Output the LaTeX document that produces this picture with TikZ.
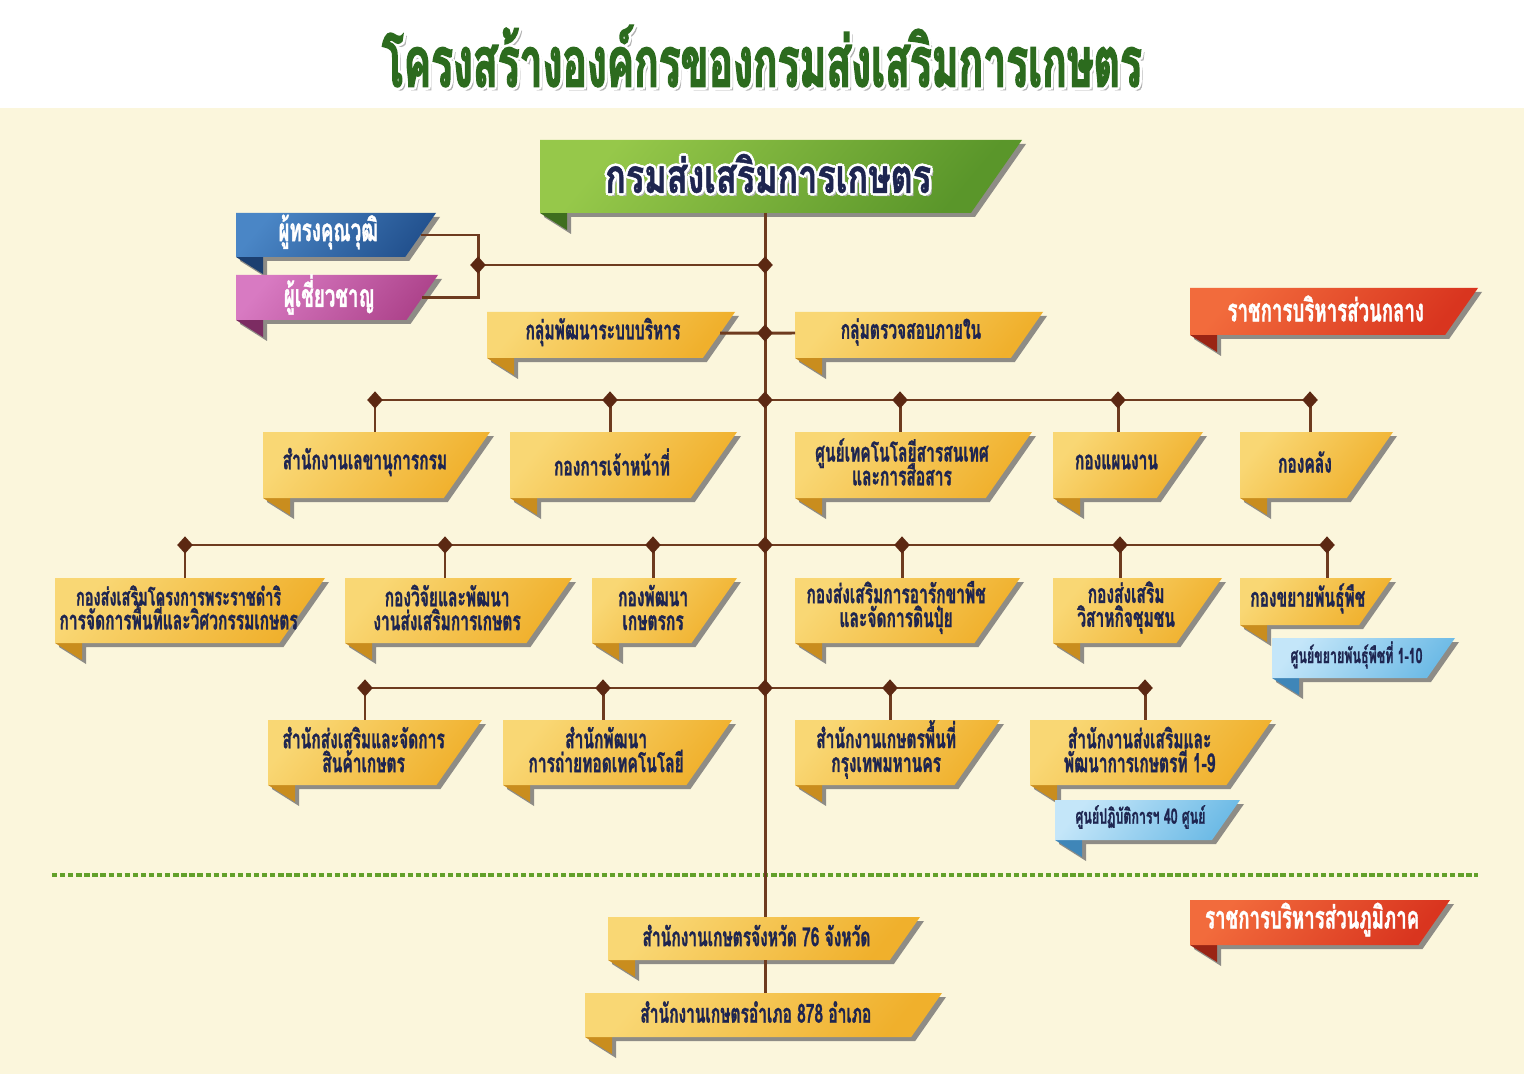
\documentclass[tikz,border=0pt]{standalone}
\usepackage{fontspec}
\usepackage{tikz}
\usetikzlibrary{calc,shapes.geometric}

\newfontfamily\thai[Script=Thai,FakeStretch=0.59,BoldFeatures={FakeBold=1}]{Loma}
\newfontfamily\thaiwide[Script=Thai,FakeStretch=0.72,BoldFeatures={FakeBold=1}]{Loma}
\newfontfamily\thaititle[Script=Thai,FakeStretch=0.58,BoldFeatures={FakeBold=2}]{Loma}

\definecolor{cream}{HTML}{FBF6DC}
\definecolor{linkbrown}{HTML}{6E3B1F}
\definecolor{knotbrown}{HTML}{5C2812}
\definecolor{ylight}{HTML}{F9D774}
\definecolor{ydark}{HTML}{F0B02C}
\definecolor{yfold}{HTML}{C98D1E}
\definecolor{glight}{HTML}{96C84A}
\definecolor{gdark}{HTML}{5A962A}
\definecolor{gfold}{HTML}{3E6E1E}
\definecolor{blight}{HTML}{4A86C6}
\definecolor{bdark}{HTML}{23528F}
\definecolor{bfold}{HTML}{1C3F70}
\definecolor{plight}{HTML}{D87AC2}
\definecolor{pdark}{HTML}{AE448C}
\definecolor{pfold}{HTML}{7C2C62}
\definecolor{rlight}{HTML}{F26B3C}
\definecolor{rdark}{HTML}{D9351F}
\definecolor{rfold}{HTML}{9A2414}
\definecolor{slight}{HTML}{C4E6F9}
\definecolor{sdark}{HTML}{6EBBE6}
\definecolor{sfold}{HTML}{3F86B8}
\definecolor{inkblue}{HTML}{1E2550}
\definecolor{titlegreen}{HTML}{2C6B1E}
\definecolor{dashgreen}{HTML}{62A02A}
\definecolor{shadowgrey}{HTML}{8E8C86}

\tikzset{
  link/.style={draw=linkbrown, line width=1.7pt},
  knot/.style={diamond, fill=knotbrown, inner sep=0pt, minimum width=9pt, minimum height=10pt},
  zoneline/.style={draw=dashgreen, line width=2.3pt, dash pattern=on 3pt off 1.6pt},
  ribshadow/.style={fill=shadowgrey},
  rib-yellow/.style={top color=ylight, bottom color=ydark, shading angle=50},
  fold-yellow/.style={fill=yfold},
  rib-green/.style={top color=glight, bottom color=gdark, shading angle=50},
  fold-green/.style={fill=gfold},
  rib-blue/.style={top color=blight, bottom color=bdark, shading angle=50},
  fold-blue/.style={fill=bfold},
  rib-pink/.style={top color=plight, bottom color=pdark, shading angle=50},
  fold-pink/.style={fill=pfold},
  rib-red/.style={top color=rlight, bottom color=rdark, shading angle=50},
  fold-red/.style={fill=rfold},
  rib-sky/.style={top color=slight, bottom color=sdark, shading angle=50},
  fold-sky/.style={fill=sfold},
  unittext/.style={font={\thai\bfseries\fontsize{15}{13.6}\selectfont\lineskiplimit-40pt\relax}, text=inkblue, align=center},
  smalltext/.style={font=\thai\bfseries\fontsize{12}{12}\selectfont, text=inkblue, align=center},
  sidetext/.style={font=\thai\bfseries\fontsize{18}{18}\selectfont, text=white, align=center},
  regiontext/.style={font=\thai\bfseries\fontsize{18}{18}\selectfont, text=white, align=center},
  headtext/.style={font=\thaiwide\bfseries\fontsize{27}{27}\selectfont, align=center},
  titletext/.style={font=\thaititle\bfseries\fontsize{40}{40}\selectfont, align=center}
}

% #1 name, #2 position, #3 style, #4 ink, #5 text
\newcommand{\halonode}[5]{%
  \node[#3, text=black!30] (#1-shade) at ($#2+(3,3)$) {#5};
  \foreach \hx/\hy [count=\i] in {2.6/0,-2.6/0,0/2.6,0/-2.6,1.9/1.9,-1.9/1.9,1.9/-1.9,-1.9/-1.9}
    \node[#3, text=white] (#1-halo\i) at ($#2+(\hx,\hy)$) {#5};
  \node[#3, text=#4] (#1) at #2 {#5};
}

% #1 name, #2 colour, #3 left, #4 top, #5 right, #6 bottom, #7 text style, #8 text
\newcommand{\ribbon}[8]{%
  \coordinate (#1-nw) at (#3,#4);
  \coordinate (#1-ne) at (#5,#4);
  \coordinate (#1-se) at ({#5-0.7*(#6-#4)},#6);
  \coordinate (#1-sw) at (#3,#6);
  \fill[ribshadow] (#3+4,#4+4) -- (#5+4,#4+4) -- ({#5-0.7*(#6-#4)+4},#6+4)
    -- (#3+31,#6+4) -- (#3+31,#6+21) -- (#3+4,#6+4) -- cycle;
  \fill[fold-#2] (#3,#6) -- (#3+27,#6) -- (#3+27,#6+17) -- cycle;
  \shade[rib-#2] (#1-nw) -- (#1-ne) -- (#1-se) -- (#1-sw) -- cycle;
  \node[#7] (#1) at ({(#3+#5-0.35*(#6-#4))/2},{(#4+#6)/2-3}) {#8};
}

\begin{document}
\begin{tikzpicture}[x=0.02cm, y=-0.02cm]
\useasboundingbox (0,0) rectangle (1524,1074);
\fill[white] (0,0) rectangle (1524,1074);
\fill[cream] (0,108) rectangle (1524,1074);

% title
\halonode{title}{(762,56)}{titletext}{titlegreen}{โครงสร้างองค์กรของกรมส่งเสริมการเกษตร}

% head and advisors
\ribbon{dept}{green}{540}{140}{1022}{213}{headtext}{}
\halonode{deptname}{(dept)}{headtext}{inkblue}{กรมส่งเสริมการเกษตร}
\ribbon{advA}{blue}{236}{213}{436}{257}{sidetext}{ผู้ทรงคุณวุฒิ}
\ribbon{advB}{pink}{236}{275}{438}{320}{sidetext}{ผู้เชี่ยวชาญ}
\ribbon{grpA}{yellow}{487}{312}{735}{358}{unittext}{กลุ่มพัฒนาระบบบริหาร}
\ribbon{grpB}{yellow}{795}{312}{1043}{358}{unittext}{กลุ่มตรวจสอบภายใน}
\ribbon{central}{red}{1190}{288}{1478}{335}{regiontext}{ราชการบริหารส่วนกลาง}

% row 1
\ribbon{secr}{yellow}{263}{432}{490}{498}{unittext}{สำนักงานเลขานุการกรม}
\ribbon{pers}{yellow}{510}{432}{737}{498}{unittext}{กองการเจ้าหน้าที่}
\ribbon{ict}{yellow}{795}{432}{1032}{498}{unittext}{ศูนย์เทคโนโลยีสารสนเทศ\\และการสื่อสาร}
\ribbon{plan}{yellow}{1053}{432}{1203}{498}{unittext}{กองแผนงาน}
\ribbon{fin}{yellow}{1240}{432}{1393}{498}{unittext}{กองคลัง}

% row 2
\ribbon{royal}{yellow}{55}{578}{325}{643}{unittext}{\fontsize{14}{13.6}\selectfont กองส่งเสริมโครงการพระราชดำริ\\การจัดการพื้นที่และวิศวกรรมเกษตร}
\ribbon{research}{yellow}{345}{578}{572}{643}{unittext}{กองวิจัยและพัฒนา\\งานส่งเสริมการเกษตร}
\ribbon{farmer}{yellow}{592}{578}{737}{643}{unittext}{กองพัฒนา\\เกษตรกร}
\ribbon{protect}{yellow}{795}{578}{1020}{643}{unittext}{กองส่งเสริมการอารักขาพืช\\และจัดการดินปุ๋ย}
\ribbon{enterp}{yellow}{1053}{578}{1222}{643}{unittext}{กองส่งเสริม\\วิสาหกิจชุมชน}
\ribbon{seed}{yellow}{1240}{578}{1392}{625}{unittext}{กองขยายพันธุ์พืช}
\ribbon{seedctr}{sky}{1272}{638}{1455}{678}{smalltext}{ศูนย์ขยายพันธุ์พืชที่ 1-10}

% row 3
\ribbon{market}{yellow}{268}{720}{482}{785}{unittext}{สำนักส่งเสริมและจัดการ\\สินค้าเกษตร}
\ribbon{transfer}{yellow}{503}{720}{732}{785}{unittext}{สำนักพัฒนา\\การถ่ายทอดเทคโนโลยี}
\ribbon{bkk}{yellow}{795}{720}{1000}{785}{unittext}{สำนักงานเกษตรพื้นที่\\กรุงเทพมหานคร}
\ribbon{region}{yellow}{1030}{720}{1272}{785}{unittext}{สำนักงานส่งเสริมและ\\พัฒนาการเกษตรที่ 1-9}
\ribbon{opsctr}{sky}{1055}{800}{1240}{840}{smalltext}{ศูนย์ปฏิบัติการฯ 40 ศูนย์}

% provincial part
\draw[zoneline] (52,875) -- (1478,875);
\ribbon{prov}{yellow}{608}{917}{920}{960}{unittext}{สำนักงานเกษตรจังหวัด 76 จังหวัด}
\ribbon{dist}{yellow}{585}{993}{942}{1037}{unittext}{สำนักงานเกษตรอำเภอ 878 อำเภอ}
\ribbon{local}{red}{1190}{900}{1450}{945}{regiontext}{ราชการบริหารส่วนภูมิภาค}

% junctions
\coordinate (jadv) at (478,265);
\coordinate (jtop) at (765,265);
\coordinate (jgrp) at (765,333);
\coordinate (r1a) at (375,400);
\coordinate (r1b) at (610,400);
\coordinate (r1c) at (765,400);
\coordinate (r1d) at (900,400);
\coordinate (r1e) at (1118,400);
\coordinate (r1f) at (1310,400);
\coordinate (r2a) at (185,545);
\coordinate (r2b) at (445,545);
\coordinate (r2c) at (653,545);
\coordinate (r2d) at (765,545);
\coordinate (r2e) at (902,545);
\coordinate (r2f) at (1120,545);
\coordinate (r2g) at (1327,545);
\coordinate (r3a) at (365,688);
\coordinate (r3b) at (603,688);
\coordinate (r3c) at (765,688);
\coordinate (r3d) at (890,688);
\coordinate (r3e) at (1145,688);

% links
\draw[link] (jtop |- dept-sw) -- (jtop |- prov-nw);
\draw[link] (jtop |- prov-sw) -- (jtop |- dist-nw);
\draw[link] ($(advA-ne)!0.5!(advA-se)$) -| (jadv) |- ($(advB-ne)!0.5!(advB-se)$);
\draw[link] (jadv) -- (jtop);
\draw[link] ($(grpA-ne)!0.46!(grpA-se)$) -- (grpB-nw |- jgrp);
\draw[link] (r1a) -- (r1f);
\draw[link] (r2a) -- (r2g);
\draw[link] (r3a) -- (r3e);
\foreach \j/\b in {r1a/secr,r1b/pers,r1d/ict,r1e/plan,r1f/fin,
                   r2a/royal,r2b/research,r2c/farmer,r2e/protect,r2f/enterp,r2g/seed,
                   r3a/market,r3b/transfer,r3d/bkk,r3e/region}
  \draw[link] (\j) -- (\j |- \b-nw);

\foreach \j in {jadv,jtop,jgrp,r1a,r1b,r1c,r1d,r1e,r1f,r2a,r2b,r2c,r2d,r2e,r2f,r2g,r3a,r3b,r3c,r3d,r3e}
  \node[knot] (k\j) at (\j) {};

\end{tikzpicture}
\end{document}
